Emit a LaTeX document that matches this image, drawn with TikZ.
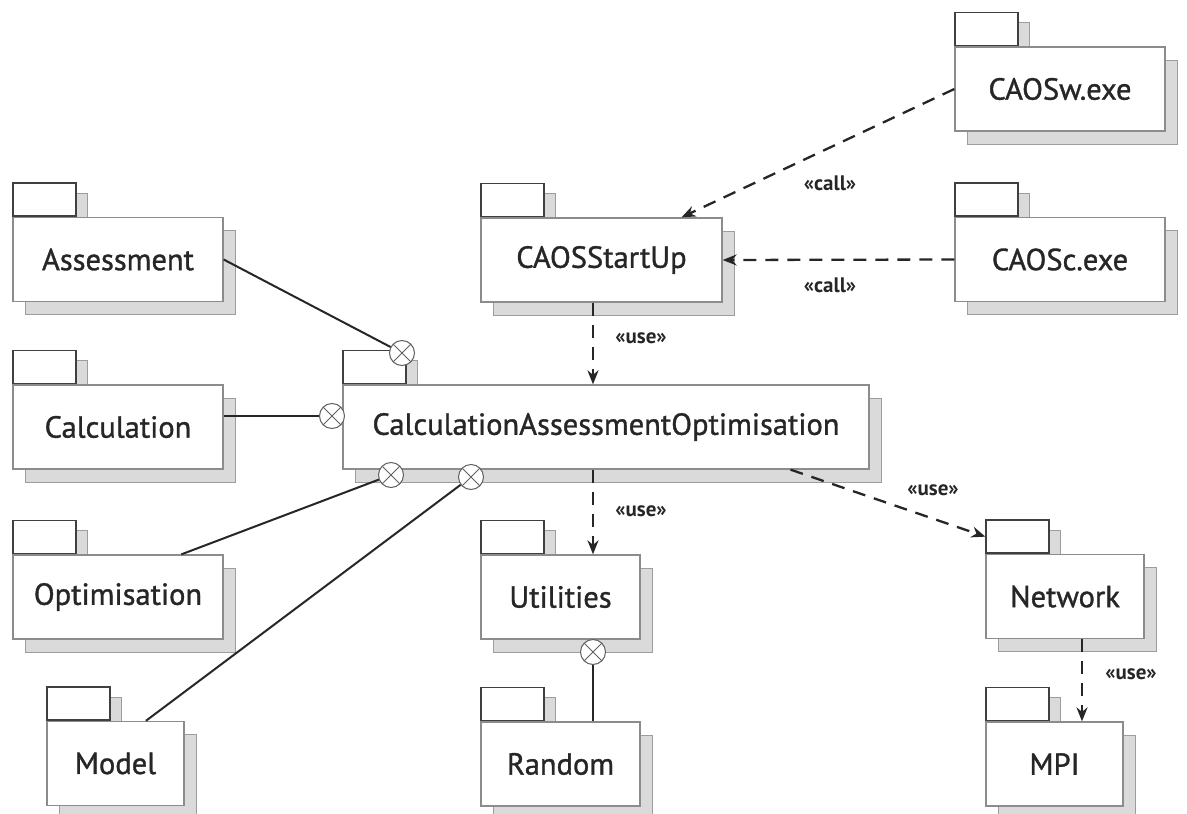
\documentclass[tikz,border=0pt]{standalone}
\usepackage{fontspec}
\setmainfont{PT Sans}
\newfontfamily\pkgfont{PT Sans}[FakeBold=1.1]
\usetikzlibrary{arrows.meta,shadows,calc}
\pgfdeclarelayer{tabs}
\pgfsetlayers{tabs,main}

\definecolor{edge}{HTML}{8C8C8C}
\definecolor{shade}{HTML}{DADADA}
\definecolor{ink}{HTML}{262626}

\tikzset{
  pkgbody/.style={draw=edge, fill=white, line width=1.3pt, minimum height=84pt,
    inner sep=0pt, font=\pkgfont\fontsize{30.5}{33}\selectfont, text=ink,
    copy shadow={shadow xshift=12pt, shadow yshift=-13pt, fill=shade, draw=edge!85, line width=1pt}},
  pkgtab/.style={draw=gray!50!black, fill=white, line width=1.4pt, minimum width=63pt,
    minimum height=33pt, inner sep=0pt, anchor=south west,
    copy shadow={shadow xshift=11pt, shadow yshift=-10pt, fill=shade, draw=edge!85, line width=1pt}},
  xcirc/.style={circle, draw=gray!75!black, fill=white, line width=1pt, minimum size=25pt, inner sep=0pt,
    path picture={\draw[gray!75!black, line width=1pt]
      (path picture bounding box.south west) -- (path picture bounding box.north east)
      (path picture bounding box.north west) -- (path picture bounding box.south east);}},
  assoc/.style={draw=ink, line width=2pt},
  dep/.style={draw=ink, line width=2.3pt, dash pattern=on 13pt off 9pt,
    -{Stealth[length=14pt, width=11pt]}},
  stereo/.style={font=\bfseries\fontsize{21}{24}\selectfont, text=ink, inner sep=0pt}
}

% package: body with a tab on its upper left corner
\newcommand\pkgnode[4]{%
  \node[pkgbody, minimum width=#3] (#1) at #2 {#4};
  \begin{pgfonlayer}{tabs}\node[pkgtab] (#1-tab) at (#1.north west) {};\end{pgfonlayer}}

\begin{document}
\begin{tikzpicture}[x=1pt, y=-1pt]
\useasboundingbox (0,0) rectangle (1187,814);

% packages
\pkgnode{assess}{(118,259.5)}{210pt}{Assessment}
\pkgnode{calc}{(118,427)}{210pt}{Calculation}
\pkgnode{optim}{(118,597)}{210pt}{Optimisation}
\pkgnode{model}{(115.5,763.5)}{137pt}{Model}
\pkgnode{startup}{(601.5,260)}{241pt}{CAOSStartUp}
\pkgnode{caosw}{(1060,89)}{210pt}{CAOSw.exe}
\pkgnode{caosc}{(1060,259.5)}{210pt}{CAOSc.exe}
\pkgnode{cao}{(606,427)}{526pt}{CalculationAssessmentOptimisation}
\pkgnode{util}{(560.5,597)}{159pt}{Utilities}
\pkgnode{random}{(560.5,764)}{159pt}{Random}
\pkgnode{network}{(1065,596.5)}{158pt}{Network}
\pkgnode{mpi}{(1054.5,764)}{137pt}{MPI}

% vertical axes of the dependency arrows
\coordinate (axisA) at (593,0);
\coordinate (axisB) at (1082,0);

% nesting connectors with their circle-cross ends
\node[xcirc] (ca) at (402,353) {};
\node[xcirc] (cc) at (332,416) {};
\node[xcirc] (co) at (391,475) {};
\node[xcirc] (cm) at (471,477) {};
\node[xcirc] (cu) at (593,652) {};

\draw[assoc] (assess.east) -- (ca);
\draw[assoc] (calc.east |- cc) -- (cc);
\draw[assoc] ($(optim.north west)!0.8!(optim.north east)$) -- (co);
\draw[assoc] ($(model.north west)!0.72!(model.north east)$) -- (cm);
\draw[assoc] (cu) -- (cu |- random.north);

% dependencies
\draw[dep] (caosw.west) -- ($(startup.north west)!0.83!(startup.north east)$);
\draw[dep] (caosc.west) -- (startup.east);
\draw[dep] (startup.south -| axisA) -- (cao.north -| axisA);
\draw[dep] (cao.south -| axisA) -- (util.north -| axisA);
\draw[dep] ($(cao.south west)!0.85!(cao.south east)$) -- (network-tab.west);
\draw[dep] (network.south -| axisB) -- (mpi.north -| axisB);

% stereotypes
\node[stereo] (l1) at (830,183) {«call»};
\node[stereo] (l2) at (830,285) {«call»};
\node[stereo] (l3) at (641,338) {«use»};
\node[stereo] (l4) at (641,511) {«use»};
\node[stereo] (l5) at (933,490) {«use»};
\node[stereo] (l6) at (1131,674) {«use»};
\end{tikzpicture}
\end{document}
